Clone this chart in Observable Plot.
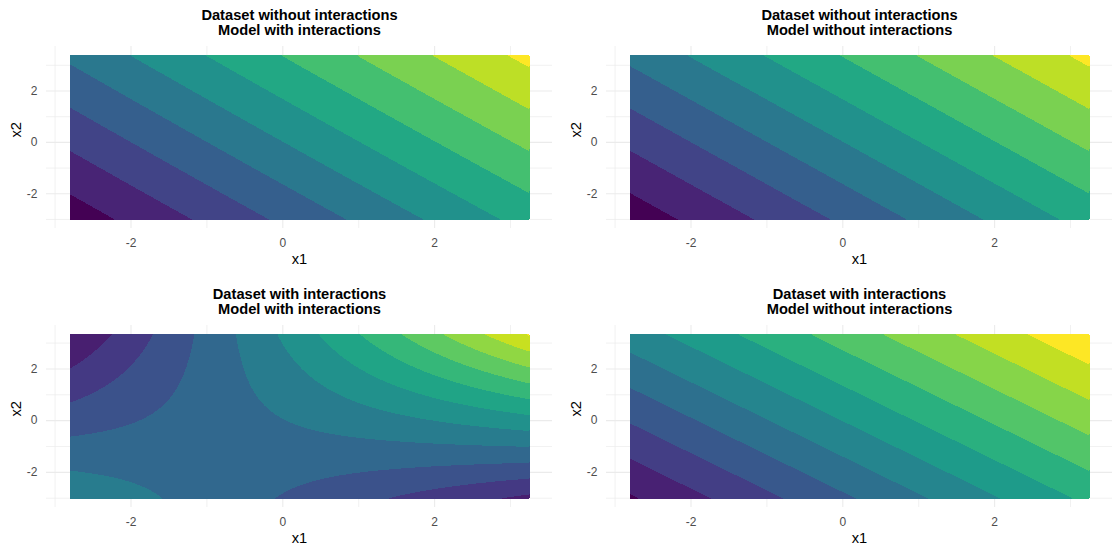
<!DOCTYPE html>
<html>
<head>
<meta charset="utf-8">
<script src="https://cdn.jsdelivr.net/npm/d3@7"></script>
<script src="https://cdn.jsdelivr.net/npm/@observablehq/plot@0.6"></script>
<style>
  html, body { margin: 0; padding: 0; background: #ffffff; }
  #chart { display: grid; grid-template-columns: 560px 560px; grid-template-rows: 279px 278px; width: 1120px; height: 557px; }
  #chart svg { display: block; }
</style>
</head>
<body>
<div id="chart"></div>
<script>
// Panel titles (row-major: top-left, top-right, bottom-left, bottom-right)
const panelTitles = [
  "Dataset without interactions\nModel with interactions",
  "Dataset without interactions\nModel without interactions",
  "Dataset with interactions\nModel with interactions",
  "Dataset with interactions\nModel without interactions"
];

// Fitted model coefficients per panel (read off the contour spacing):
// prediction = intercept + b1*x1 + b2*x2 + b12*x1*x2
const intercept = [4.985, 4.985, 0.977, 6.016];
const coefX1    = [0.994, 0.994, 0.516, 1.049];
const coefX2    = [0.602, 0.607, 0.347, 0.729];
const coefX1X2  = [0.0033, 0, 0.395, 0];

// Lower bounds of the filled contour bands per panel
const bandBreaks = [
  [0, 1, 2, 3, 4, 5, 6, 7, 8, 9, 10],
  [0, 1, 2, 3, 4, 5, 6, 7, 8, 9, 10],
  [-4, -3, -2, -1, 0, 1, 2, 3, 4, 5, 6, 7, 8],
  [0, 1, 2, 3, 4, 5, 6, 7, 8, 9, 10, 11]
];

// Ranges of the prediction grid
const x1Range = [[-2.81, 3.25], [-2.81, 3.25], [-2.81, 3.25], [-2.81, 3.25]];
const x2Range = [[-3.03, 3.41], [-3.03, 3.41], [-3.04, 3.36], [-3.04, 3.36]];

// Axis ticks
const majorTicks = [-2, 0, 2];
const minorTicks = [-3, -1, 1, 3];
const axisTitles = ["x1", "x2"];

const FONT = "'Liberation Sans', Arial, Helvetica, sans-serif";

function panel(i, height, marginBottom) {
  const [xa, xb] = x1Range[i];
  const [ya, yb] = x2Range[i];
  const ex = (xb - xa) * 0.05, ey = (yb - ya) * 0.05;
  const breaks = bandBreaks[i];
  const colors = d3.quantize(d3.interpolateViridis, breaks.length);
  const grid = {stroke: "#EBEBEB", strokeOpacity: 1};
  return Plot.plot({
    width: 560,
    height,
    marginLeft: 46,
    marginRight: 8,
    marginTop: 46,
    marginBottom,
    style: {fontFamily: FONT, fontSize: "12px", background: "#ffffff", overflow: "visible"},
    x: {domain: [xa - ex, xb + ex], axis: null},
    y: {domain: [ya - ey, yb + ey], axis: null},
    color: {type: "ordinal", domain: breaks, range: colors},
    marks: [
      Plot.gridX(minorTicks, {...grid, strokeWidth: 0.7}),
      Plot.gridY(minorTicks, {...grid, strokeWidth: 0.7}),
      Plot.gridX(majorTicks, {...grid, strokeWidth: 1.1}),
      Plot.gridY(majorTicks, {...grid, strokeWidth: 1.1}),
      Plot.contour({
        x1: xa, x2: xb, y1: ya, y2: yb,
        value: (x, y) => intercept[i] + coefX1[i] * x + coefX2[i] * y + coefX1X2[i] * x * y,
        thresholds: breaks,
        fill: "value",
        stroke: "none",
        shapeRendering: "crispEdges"
      }),
      Plot.axisX(majorTicks, {tickSize: 0, tickPadding: 9.5, fontSize: 12, color: "#4D4D4D", label: null, tickFormat: d => String(d)}),
      Plot.axisY(majorTicks, {tickSize: 0, tickPadding: 9, fontSize: 12, color: "#4D4D4D", label: null, tickFormat: d => String(d)}),
      Plot.text([axisTitles[0]], {frameAnchor: "bottom", dy: 35, fontSize: 14.67, fill: "#000000"}),
      Plot.text([axisTitles[1]], {frameAnchor: "left", dx: -30, rotate: -90, fontSize: 14.67, fill: "#000000"}),
      Plot.text([panelTitles[i]], {frameAnchor: "top", dy: -37.5, lineAnchor: "top", fontSize: 14.67, fontWeight: "bold", lineHeight: 1.05, fill: "#000000"})
    ]
  });
}

const chart = document.getElementById("chart");
chart.append(panel(0, 279, 51));
chart.append(panel(1, 279, 51));
chart.append(panel(2, 278, 50));
chart.append(panel(3, 278, 50));
</script>
</body>
</html>
